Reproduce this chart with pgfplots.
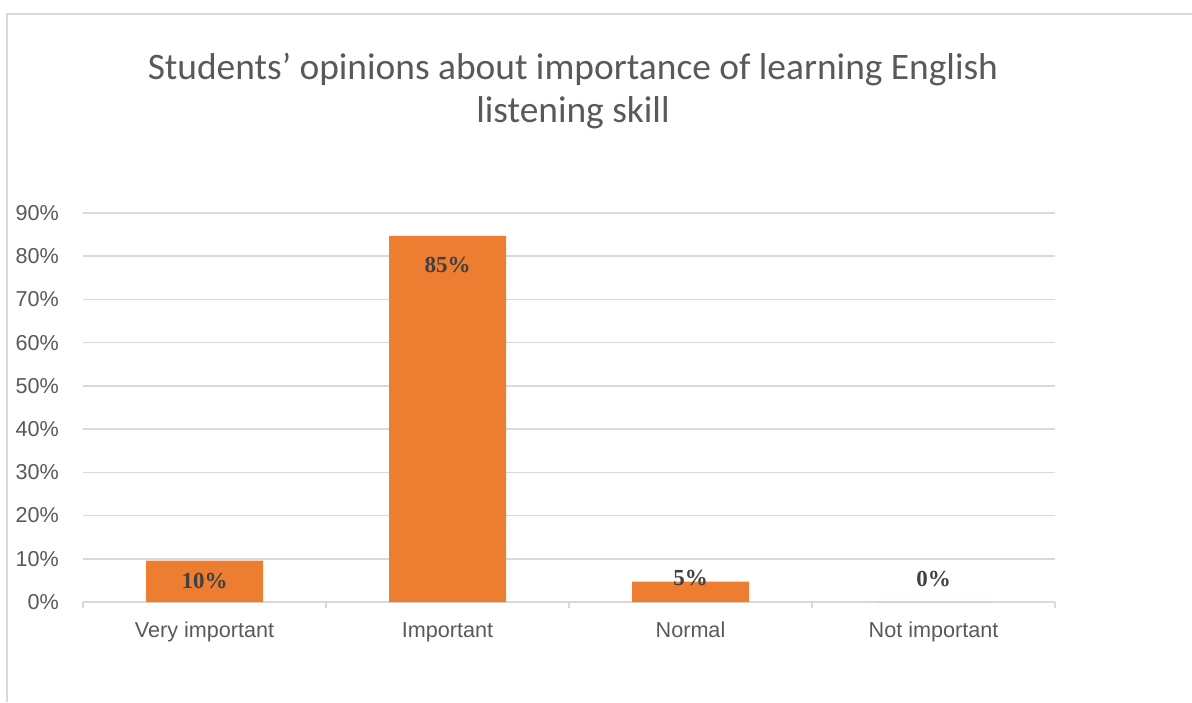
\documentclass[border=0pt]{standalone}
\usepackage{fontspec}
\setmainfont{Liberation Sans}
\newfontfamily\titlefont{Carlito}
\newfontfamily\labelfont{Liberation Serif}
\usepackage{pgfplots}
\pgfplotsset{compat=1.18}
\definecolor{barorange}{HTML}{ED7D31}
\definecolor{txtgray}{HTML}{595959}
\definecolor{gridgray}{HTML}{D9D9D9}
\definecolor{lblgray}{HTML}{404040}
\begin{document}
\begin{tikzpicture}
\path[use as bounding box] (0,0) rectangle (596pt,351pt);
\draw[gridgray, line width=0.9pt] (3.5pt,0) -- (3.5pt,344pt) -- (596pt,344pt);
\node[align=center, text=txtgray, font=\titlefont\fontsize{18.7}{21.5}\selectfont] at (286.5pt,305.5pt)
  {Students’ opinions about importance of learning English\\listening skill};
\begin{axis}[
  at={(102.25pt,50pt)}, anchor=origin,
  width=486pt, height=194.5pt, scale only axis,
  xmin=-0.5, xmax=3.5, ymin=0, ymax=90,
  axis x line*=bottom, axis y line*=left,
  y axis line style={draw=none},
  x axis line style={gridgray, line width=0.8pt},
  ytick={0,10,...,90},
  yticklabel={\pgfmathprintnumber{\tick}\%},
  /pgf/number format/assume math mode=true,
  ymajorgrids, grid style={gridgray, line width=0.8pt},
  major tick length=0pt,
  ytick style={draw=none},
  xtick={0,1,2,3},
  xticklabels={Very important, Important, Normal, Not important},
  extra x ticks={-0.5,0.5,1.5,2.5,3.5},
  extra x tick labels={},
  extra x tick style={major tick length=3pt, tick align=outside, xtick style={draw=gridgray, line width=0.8pt}, grid=none},
  tick label style={text=txtgray, font=\fontsize{10.8}{12}\selectfont},
  yticklabel style={xshift=-8.5pt},
  xticklabel style={anchor=north, text height=8pt, text depth=2.5pt, yshift=-6pt},
  clip=false,
]
\addplot[ybar, bar width=58.5pt, fill=barorange, draw=none] coordinates {(0,9.6) (1,84.7) (2,4.7) (3,0)};
\addplot[draw=none, mark=none, nodes near coords, point meta=explicit symbolic,
  every node near coord/.style={anchor=center, text=lblgray, font=\labelfont\bfseries\fontsize{11.5}{12}\selectfont}]
  coordinates {(0,4.9)[10\%] (1,78.0)[85\%] (2,5.6)[5\%] (3,5.3)[0\%]};
\end{axis}
\end{tikzpicture}
\end{document}
